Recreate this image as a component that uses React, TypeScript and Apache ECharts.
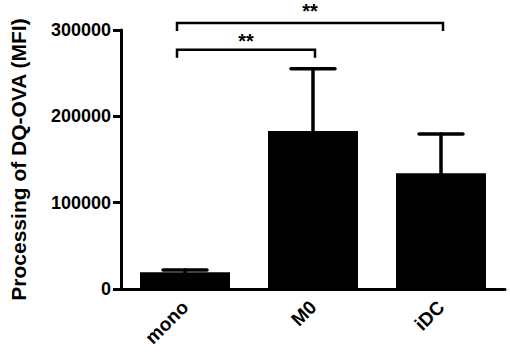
import React, { useEffect, useRef } from "react";
import * as echarts from "echarts";

const categories = ["mono", "M0", "iDC"];
const means = [19500, 183000, 134000];
const upperErrors = [22000, 255000, 179500];
const yTicks = [0, 100000, 200000, 300000];
// brackets: [fromIndex, toIndex, bracketValue, starValue, label]
const bracketFrom = [0, 0];
const bracketTo = [2, 1];
const bracketLevel = [308000, 277000];
const starLevel = [322500, 287500];
const bracketLabels = ["**", "**"];

const FONT = "'Liberation Sans', Arial, Helvetica, sans-serif";

export default function App() {
  const ref = useRef<HTMLDivElement>(null);
  useEffect(() => {
    if (!ref.current) return;
    const chart = echarts.init(ref.current, undefined, { renderer: "svg" });
    const errData = categories.map((_, i) => [i, means[i], upperErrors[i]]);
    const brData = bracketFrom.map((f, i) => [f, bracketTo[i], bracketLevel[i], starLevel[i], i]);
    chart.setOption({
      animation: false,
      grid: { left: 117, right: 5, top: 30, bottom: 67 },
      xAxis: {
        type: "category",
        data: categories,
        axisLine: { lineStyle: { color: "#000", width: 3 } },
        axisTick: { alignWithLabel: true, length: 8, lineStyle: { color: "#000", width: 3 } },
        axisLabel: {
          rotate: 45,
          margin: 15,
          color: "#000",
          fontSize: 19,
          fontWeight: "bold",
          fontFamily: FONT,
        },
      },
      yAxis: {
        type: "value",
        min: 0,
        max: 300000,
        interval: 100000,
        name: "Processing of DQ-OVA (MFI)",
        nameLocation: "middle",
        nameRotate: 90,
        nameGap: 92,
        nameTextStyle: { color: "#000", fontSize: 21, fontWeight: "bold", fontFamily: FONT },
        axisLine: { show: true, lineStyle: { color: "#000", width: 3 } },
        axisTick: { show: true, length: 8, lineStyle: { color: "#000", width: 3 } },
        splitLine: { show: false },
        axisLabel: {
          margin: 10,
          color: "#000",
          fontSize: 18,
          fontWeight: "bold",
          fontFamily: FONT,
          formatter: (v: number) => (yTicks.includes(v) ? String(v) : ""),
        },
      },
      series: [
        {
          type: "bar",
          data: means,
          barWidth: 90,
          itemStyle: { color: "#000" },
          z: 2,
        },
        {
          type: "custom",
          data: errData,
          z: 3,
          renderItem: (params: any, api: any) => {
            const idx = api.value(0);
            const p0 = api.coord([idx, api.value(1)]);
            const p1 = api.coord([idx, api.value(2)]);
            const style = { stroke: "#000", lineWidth: 3.5, lineCap: "round" };
            return {
              type: "group",
              children: [
                { type: "line", shape: { x1: p0[0], y1: p0[1], x2: p1[0], y2: p1[1] }, style },
                { type: "line", shape: { x1: p1[0] - 22, y1: p1[1], x2: p1[0] + 22, y2: p1[1] }, style },
              ],
            };
          },
        },
        {
          type: "custom",
          data: brData,
          clip: false,
          z: 4,
          renderItem: (params: any, api: any) => {
            const pl = api.coord([api.value(0), api.value(2)]);
            const pr = api.coord([api.value(1), api.value(2)]);
            const ps = api.coord([api.value(0), api.value(3)]);
            const lx = pl[0] - 8;
            const rx = pr[0] + 2;
            const y = pl[1];
            const label = bracketLabels[api.value(4)];
            return {
              type: "group",
              children: [
                {
                  type: "polyline",
                  shape: { points: [[lx, y + 8], [lx, y], [rx, y], [rx, y + 8]] },
                  style: { stroke: "#000", lineWidth: 2.5, fill: null },
                },
                {
                  type: "text",
                  x: (lx + rx) / 2,
                  y: ps[1],
                  style: {
                    text: label,
                    fill: "#000",
                    fontSize: 20,
                    fontWeight: "bold",
                    fontFamily: FONT,
                    align: "center",
                    verticalAlign: "middle",
                  },
                },
              ],
            };
          },
        },
      ],
    });
    return () => chart.dispose();
  }, []);
  return (
    <div
      ref={ref}
      style={{ position: "fixed", left: 0, top: 0, width: 510, height: 356, background: "#fff" }}
    />
  );
}
